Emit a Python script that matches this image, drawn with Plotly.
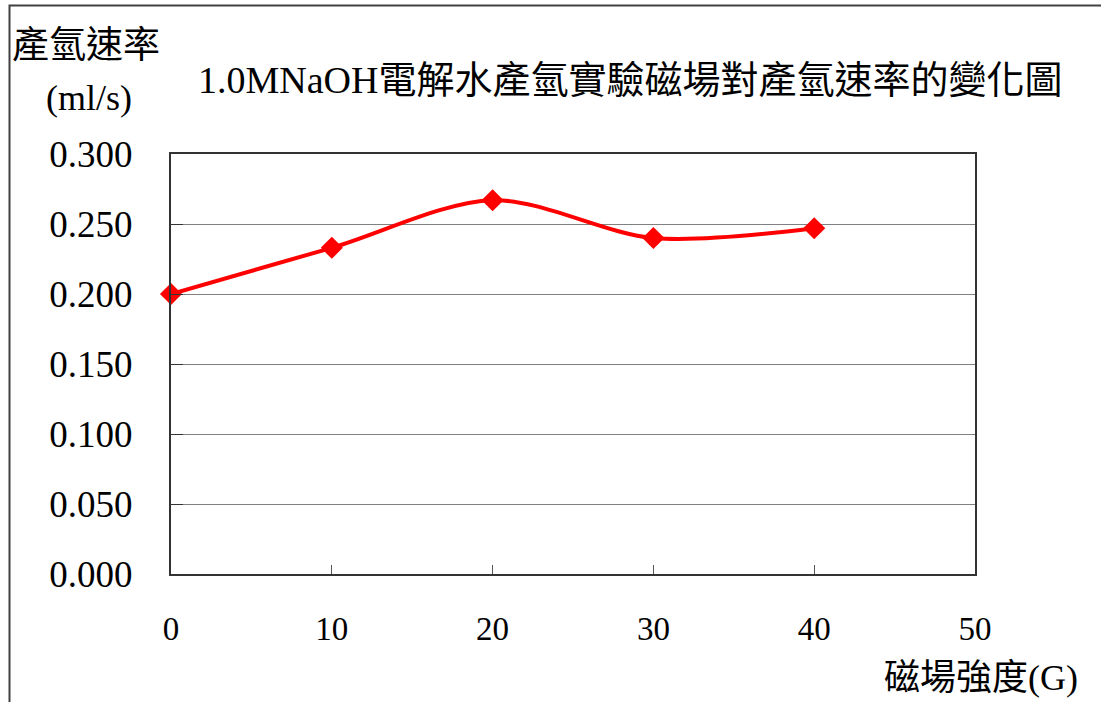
import plotly.graph_objects as go

field_G = [0, 10, 20, 30, 40]
rate = [0.200, 0.233, 0.267, 0.240, 0.247]
y_ticks = [0.0, 0.05, 0.10, 0.15, 0.20, 0.25, 0.30]
y_tick_text = ["0.000", "0.050", "0.100", "0.150", "0.200", "0.250", "0.300"]
x_ticks = [0, 10, 20, 30, 40, 50]

title_text = "1.0MNaOH電解水產氫實驗磁場對產氫速率的變化圖"
y_title_1 = "產氫速率"
y_title_2 = "(ml/s)"
x_title = "磁場強度(G)"

FONT = "Liberation Serif, Times New Roman, Noto Sans CJK TC, serif"

W, H = 1101, 702
L, R, T, B = 171, 126, 154, 128
PW, PH = W - L - R, H - T - B

def px(x):
    return (x - L) / PW

def py(y):
    return (H - B - y) / PH

fig = go.Figure()
fig.add_trace(go.Scatter(
    x=field_G, y=rate, mode="lines+markers",
    line=dict(color="#ff0000", width=4, shape="spline", smoothing=0.9),
    marker=dict(symbol="diamond", size=17, color="#ff0000"),
    showlegend=False, cliponaxis=False,
))

fig.update_layout(
    width=W, height=H,
    margin=dict(l=L, r=R, t=T, b=B),
    paper_bgcolor="white", plot_bgcolor="white",
    font=dict(family=FONT, color="black", size=32),
    xaxis=dict(
        range=[0, 50], tickvals=x_ticks, ticks="inside", ticklen=9,
        tickcolor="#555555", tickwidth=1,
        showline=True, linecolor="#333333", linewidth=2, mirror=True,
        showgrid=False, zeroline=False,
        tickfont=dict(family=FONT, size=33),
        ticklabelstandoff=24,
    ),
    yaxis=dict(
        range=[0, 0.3], tickvals=y_ticks, ticktext=y_tick_text,
        ticks="inside", ticklen=12, tickcolor="#333333", tickwidth=1,
        showline=True, linecolor="#333333", linewidth=2, mirror=True,
        showgrid=True, gridcolor="#808080", gridwidth=1, zeroline=False,
        tickfont=dict(family=FONT, size=37),
        ticklabelstandoff=29,
    ),
    shapes=[dict(
        type="rect", xref="paper", yref="paper",
        x0=px(9.5), x1=px(1110), y0=py(720), y1=py(5.5),
        line=dict(color="#404040", width=2), fillcolor="rgba(0,0,0,0)",
        layer="below",
    )],
    annotations=[
        dict(text=title_text, xref="paper", yref="paper", x=px(630), y=py(80),
             showarrow=False, xanchor="center", yanchor="middle",
             font=dict(family=FONT, size=38)),
        dict(text=y_title_1, xref="paper", yref="paper", x=px(86), y=py(45),
             showarrow=False, xanchor="center", yanchor="middle",
             font=dict(family=FONT, size=37)),
        dict(text=y_title_2, xref="paper", yref="paper", x=px(89), y=py(98),
             showarrow=False, xanchor="center", yanchor="middle",
             font=dict(family=FONT, size=36)),
        dict(text=x_title, xref="paper", yref="paper", x=px(981), y=py(678),
             showarrow=False, xanchor="center", yanchor="middle",
             font=dict(family=FONT, size=36)),
    ],
)

fig.write_html("out.html")
